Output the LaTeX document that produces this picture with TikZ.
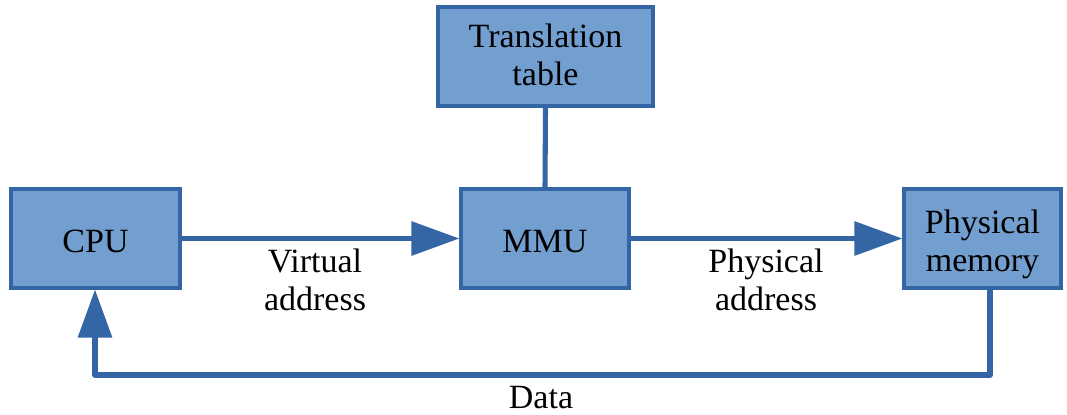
\documentclass[tikz,border=0pt]{standalone}
\usepackage{fontspec}
\setmainfont{Liberation Serif}
\usetikzlibrary{arrows.meta}
\definecolor{boxfill}{HTML}{729FCF}
\definecolor{boxline}{HTML}{3465A4}
\newcommand{\lowr}[2]{\raisebox{-#1}[\height][\depth]{#2}}
\begin{document}
\begin{tikzpicture}[x=0.75pt,y=-0.75pt,
  every node/.style={font=\fontsize{25.5}{28.5}\selectfont, align=center, inner sep=0pt},
  blk/.style={draw=boxline, fill=boxfill, line width=2.4pt},
  conn/.style={draw=boxline, line width=3.8pt},
  arr/.style={conn, -{Triangle[length=36pt,width=25pt]}}]
\useasboundingbox (0,0) rectangle (1067,414);
\node[blk, minimum width=126.75pt, minimum height=74.25pt] (cpu) at (95.5,238.5) {\lowr{2.5pt}{CPU}};
\node[blk, minimum width=126pt, minimum height=74.25pt] (mmu) at (545,238.5) {\lowr{2.5pt}{MMU}};
\node[blk, minimum width=117.75pt, minimum height=74.25pt] (pm) at (982.5,238.5) {\lowr{4.5pt}{\begin{tabular}{@{}c@{}}Physical\\memory\end{tabular}}};
\node[blk, minimum width=161.25pt, minimum height=74.25pt] (tt) at (545.5,56.5) {\lowr{2pt}{\begin{tabular}{@{}c@{}}Translation\\table\end{tabular}}};
\coordinate (c1) at (990,375);
\coordinate (c2) at (95,375);
\draw[conn] (tt.south) -- (mmu.north);
\draw[arr] (cpu.east) -- (mmu.west);
\draw[arr] (mmu.east) -- (pm.west);
\draw[arr, line join=round] (pm.south -| c1) -- (c1) -- (c2) -- (cpu.south -| c2);
\node (va) at (315,280) {Virtual\\address};
\node (pa) at (766,280) {Physical\\address};
\node (dt) at (541,398) {Data};
\end{tikzpicture}
\end{document}
